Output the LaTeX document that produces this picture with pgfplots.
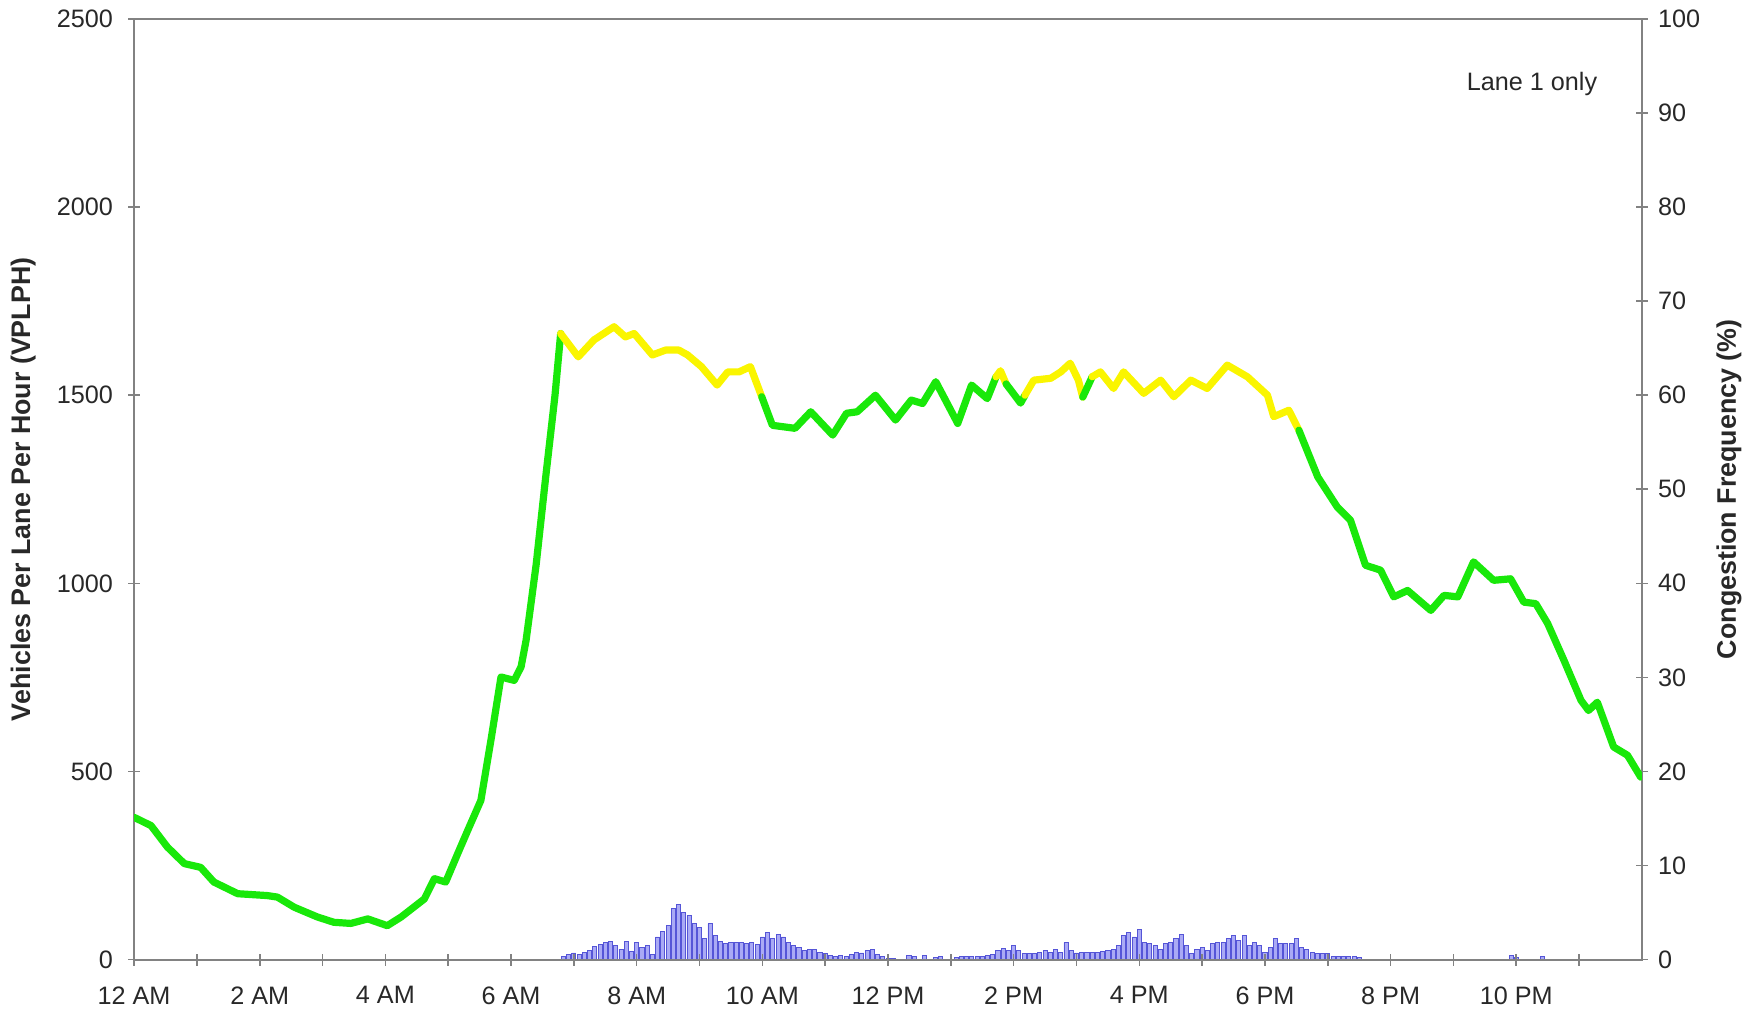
\documentclass[border=0pt]{standalone}
\usepackage{fontspec}
\setmainfont{Liberation Sans}
\usepackage{pgfplots}
\pgfplotsset{compat=1.18}
\definecolor{lgreen}{RGB}{25,232,10}
\definecolor{lyellow}{RGB}{250,245,0}
\definecolor{barfill}{RGB}{170,170,245}
\definecolor{baredge}{RGB}{85,85,215}
\definecolor{axgray}{RGB}{130,130,130}
\definecolor{txt}{RGB}{40,40,40}
\begin{document}
\begin{tikzpicture}
\path[use as bounding box] (-67pt,-28.5pt) rectangle (809.5pt,479.5pt);
\pgfplotsset{
  base/.style={
    scale only axis, width=753.5pt, height=470pt,
    xmin=0, xmax=24,
    tick align=center,
    major tick length=6pt, minor tick length=6pt,
    every tick/.style={axgray, line width=0.8pt},
    axis line style={axgray, line width=1pt},
    tick label style={font=\fontsize{12.6}{15}\selectfont, text=txt},
  }
}
% right axis: congestion frequency bars
\begin{axis}[base,
  axis x line=none, axis y line*=right,
  ymin=0, ymax=100, ytick={0,10,...,100},
  yticklabels={0,10,20,30,40,50,60,70,80,90,100},
  yticklabel style={xshift=1.5pt},
  ylabel={Congestion Frequency (\%)},
  every axis y label/.style={at={(axis description cs:1.0577,0.5)}, rotate=90, anchor=center,
    font=\fontsize{13.4}{16}\selectfont\bfseries, text=txt},
]
\addplot[ybar, bar width=0.065, fill=barfill, draw=baredge, line width=0.45pt] coordinates {
(6.833,0.3) (6.917,0.5) (7.000,0.7) (7.083,0.5) (7.167,0.8) (7.250,1.0) (7.333,1.4) (7.417,1.6)
(7.500,1.8) (7.583,1.9) (7.667,1.5) (7.750,1.1) (7.833,1.9) (7.917,0.9) (8.000,1.8) (8.083,1.3)
(8.167,1.5) (8.250,0.5) (8.333,2.4) (8.417,3.0) (8.500,3.6) (8.583,5.4) (8.667,5.9) (8.750,5.0)
(8.833,4.7) (8.917,3.8) (9.000,3.4) (9.083,2.2) (9.167,3.8) (9.250,2.6) (9.333,1.9) (9.417,1.7)
(9.500,1.8) (9.583,1.8) (9.667,1.8) (9.750,1.7) (9.833,1.8) (9.917,1.6) (10.000,2.4) (10.083,2.9)
(10.167,2.2) (10.250,2.7) (10.333,2.4) (10.417,1.8) (10.500,1.5) (10.583,1.3) (10.667,1.0) (10.750,1.1)
(10.833,1.1) (10.917,0.8) (11.000,0.6) (11.083,0.4) (11.167,0.3) (11.250,0.4) (11.333,0.3) (11.417,0.5)
(11.500,0.8) (11.583,0.7) (11.667,1.0) (11.750,1.1) (11.833,0.5) (11.917,0.3) (12.000,0.1) (12.083,0.1)
(12.333,0.4) (12.417,0.3) (12.583,0.4) (12.750,0.2) (12.833,0.3) (13.083,0.2) (13.167,0.3) (13.250,0.3)
(13.333,0.3) (13.417,0.3) (13.500,0.3) (13.583,0.4) (13.667,0.5) (13.750,1.0) (13.833,1.2) (13.917,1.0)
(14.000,1.5) (14.083,1.0) (14.167,0.6) (14.250,0.6) (14.333,0.6) (14.417,0.8) (14.500,1.0) (14.583,0.8)
(14.667,1.1) (14.750,0.8) (14.833,1.8) (14.917,1.0) (15.000,0.7) (15.083,0.8) (15.167,0.8) (15.250,0.8)
(15.333,0.8) (15.417,0.9) (15.500,1.0) (15.583,1.1) (15.667,1.5) (15.750,2.6) (15.833,2.9) (15.917,2.4)
(16.000,3.2) (16.083,1.8) (16.167,1.7) (16.250,1.5) (16.333,1.1) (16.417,1.7) (16.500,1.8) (16.583,2.2)
(16.667,2.7) (16.750,1.5) (16.833,0.6) (16.917,1.1) (17.000,1.3) (17.083,1.0) (17.167,1.7) (17.250,1.8)
(17.333,1.8) (17.417,2.2) (17.500,2.6) (17.583,2.0) (17.667,2.6) (17.750,1.5) (17.833,1.8) (17.917,1.5)
(18.000,0.8) (18.083,1.3) (18.167,2.2) (18.250,1.7) (18.333,1.7) (18.417,1.7) (18.500,2.2) (18.583,1.3)
(18.667,1.1) (18.750,0.8) (18.833,0.6) (18.917,0.6) (19.000,0.6) (19.083,0.3) (19.167,0.3) (19.250,0.3)
(19.333,0.3) (19.417,0.3) (19.500,0.2) (21.917,0.4) (22.000,0.2) (22.417,0.3)
};
\end{axis}
% left axis: volume
\begin{axis}[base,
  ymin=0, ymax=2500, ytick={0,500,...,2500},
  yticklabels={0,500,1000,1500,2000,2500},
  yticklabel style={xshift=-4pt},
  ytick pos=left,
  xtick={0,2,...,22},
  xticklabels={12 AM,2 AM,4 AM,6 AM,8 AM,10 AM,12 PM,2 PM,4 PM,6 PM,8 PM,10 PM},
  xticklabel style={yshift=-7pt},
  minor xtick={1,3,...,23},
  xtick pos=bottom,
  ylabel={Vehicles Per Lane Per Hour (VPLPH)},
  every axis y label/.style={at={(axis description cs:-0.0735,0.5)}, rotate=90, anchor=center,
    font=\fontsize{13.4}{16}\selectfont\bfseries, text=txt},
  every axis plot/.append style={line width=3.6pt, line join=round, line cap=round},
]
\addplot[lgreen] coordinates {
(0,378) (0.27,356) (0.53,299) (0.80,255) (1.06,245) (1.27,206) (1.65,175) (2.12,170)
(2.28,166) (2.55,139) (2.92,113) (3.18,99) (3.45,96) (3.72,108) (4.03,90) (4.25,113)
(4.62,161) (4.78,215) (4.96,206) (5.15,281) (5.31,343) (5.52,423) (5.68,583) (5.84,751)
(6.05,742) (6.16,778) (6.24,849) (6.40,1050) (6.55,1280) (6.70,1500) (6.79,1664)
};
\addplot[lyellow] coordinates {
(6.79,1664) (7.07,1602) (7.32,1647) (7.64,1682) (7.82,1655) (7.96,1664) (8.25,1607) (8.46,1620)
(8.67,1620) (8.81,1607) (9.03,1576) (9.28,1527) (9.45,1562) (9.63,1562) (9.81,1576) (9.99,1496)
};
\addplot[lgreen] coordinates {
(9.99,1496) (10.16,1420) (10.52,1412) (10.77,1456) (11.12,1394) (11.34,1452) (11.51,1456) (11.80,1500)
(12.12,1434) (12.37,1487) (12.55,1478) (12.76,1536) (13.11,1425) (13.33,1527) (13.58,1491) (13.72,1549)
};
\addplot[lyellow] coordinates {(13.72,1549) (13.79,1565) (13.88,1530)};
\addplot[lgreen] coordinates {(13.88,1530) (14.11,1479) (14.18,1500)};
\addplot[lyellow] coordinates {
(14.18,1500) (14.32,1540) (14.59,1545) (14.75,1562) (14.90,1585) (15.03,1540) (15.10,1495)
};
\addplot[lgreen] coordinates {(15.10,1495) (15.25,1549)};
\addplot[lyellow] coordinates {
(15.25,1549) (15.38,1562) (15.59,1518) (15.75,1562) (16.07,1505) (16.34,1540) (16.55,1496) (16.82,1540)
(17.08,1518) (17.40,1580) (17.72,1549) (18.04,1500) (18.14,1443) (18.38,1460) (18.54,1407)
};
\addplot[lgreen] coordinates {
(18.54,1407) (18.84,1283) (19.15,1203) (19.36,1168) (19.60,1048) (19.84,1035) (20.05,964) (20.27,981)
(20.64,928) (20.85,968) (21.07,964) (21.32,1057) (21.64,1008) (21.91,1012) (22.12,950) (22.31,946)
(22.50,893) (22.76,795) (23.03,689) (23.15,662) (23.29,684) (23.55,565) (23.77,543) (23.98,485)
};
\node[anchor=east, font=\fontsize{12.6}{15}\selectfont, text=txt] at (axis cs:23.4,2327) {Lane 1 only};
\end{axis}
\end{tikzpicture}
\end{document}
